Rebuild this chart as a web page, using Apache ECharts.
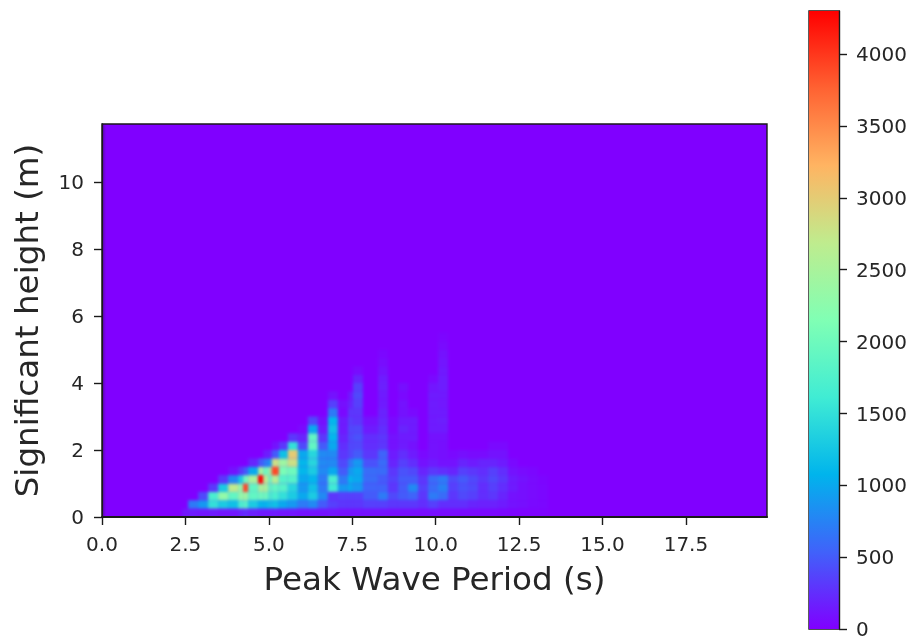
<!DOCTYPE html>
<html>
<head>
<meta charset="utf-8">
<style>
html,body{margin:0;padding:0;background:#fff;}
#wrap{position:relative;width:917px;height:641px;overflow:hidden;}
#main{width:917px;height:641px;filter:blur(0.7px);}
#soft{position:absolute;left:103px;top:125px;width:663px;height:391px;backdrop-filter:blur(1.6px);pointer-events:none;}
</style>
<script src="https://cdn.jsdelivr.net/npm/echarts@6/dist/echarts.min.js"></script>
</head>
<body>
<div id="wrap"><div id="main"></div><div id="soft"></div></div>
<script>
const xTicks = [0, 2.5, 5, 7.5, 10, 12.5, 15, 17.5];
const yTicks = [0, 2, 4, 6, 8, 10];
const barTicks = [0, 500, 1000, 1500, 2000, 2500, 3000, 3500, 4000];
const xMax = 19.93, yMax = 11.73, barMax = 4300, heightStep = 0.25;
const rainbowStops = ['#8000ff','#4062fa','#00b4ec','#40ecd4','#80ffb4','#bfec8e','#ffb462','#ff6232','#ff0000'];
// Left/right edges of the period bins (s)
const periodEdges = [2.4,2.58,2.88,3.18,3.48,3.78,4.08,4.23,4.38,4.68,4.83,4.98,5.09,5.30,5.57,5.87,6.17,6.47,6.77,7.07,7.37,7.52,7.82,8.27,8.57,8.87,9.17,9.47,9.77,10.07,10.37,10.67,10.97,11.27,11.57,11.87,12.17,12.47,12.77,13.07,13.37];
// Counts per period bin, listed from the lowest height bin upward
const counts = [
[120],
[150,700],
[130,900,400],
[150,1500,1700,300],
[120,1300,2300,1300,300],
[130,1200,1900,2700,800,100],
[200,1700,2300,2300,1300,300],
[250,1800,2400,3900,2000,500],
[180,1300,1900,1900,2500,1000,200],
[150,1100,2000,2500,4300,2500,500],
[150,1100,2000,2500,2700,2000,700,150],
[150,1200,1700,1900,2000,2400,900,200],
[150,1200,1700,1900,2600,3900,2800,500,100],
[120,1000,1500,1800,1800,2100,2400,1200,300],
[120,900,1300,1400,1800,2000,2800,3000,1500,300],
[100,700,1000,900,1000,1100,1100,1000,400,200,50],
[100,800,1300,1200,1100,1300,1400,1400,1900,1900,1000,400],
[100,500,800,700,700,800,800,800,500,300,150,80],
[120,350,300,1600,1700,1000,800,800,1000,1100,1200,1100,700,350,100],
[100,300,350,900,700,500,400,300,250,200,150,150,50,80],
[100,300,350,1000,1100,900,700,400,400,400,400,350,300,200,150],
[100,300,350,900,1000,1000,900,500,400,450,400,300,300,350,400,350,200,60],
[100,350,500,550,600,600,450,300,250,250,150,100],
[100,350,700,550,500,600,600,550,300,300,260,220,190,150,150,180,160,110,70,40],
[80,300,400,300,350,300,200,150,100,100,50,50],
[80,300,500,500,500,450,350,250,150,150,200,150,100,100,50,80],
[80,300,550,800,500,400,250,150,100,150,150,150,50],
[70,250,300,350,300,200,100,50],
[80,350,700,600,600,300,150,100,100,100,150,150,150,150,150,120,50],
[70,250,600,750,700,250,100,80,80,100,150,170,150,130,140,160,160,140,120,100,60,30],
[70,250,300,350,400,200,100,50],
[60,250,400,450,500,350,200,80],
[60,200,350,400,400,300,150,60],
[50,180,250,250,300,250,200,60],
[50,180,300,350,400,350,200,100,50],
[40,150,200,250,300,250,150,100,50],
[30,100,100,150,150,100,50],
[20,80,80,80,100,60],
[20,50,60,60,60,40],
[20,40,40,40,30]
];

const cells = [];
counts.forEach((col, i) => col.forEach((v, j) => {
  cells.push([periodEdges[i], periodEdges[i + 1], j * heightStep, (j + 1) * heightStep, v]);
}));

const tickFont = {fontFamily: 'DejaVu Sans', fontSize: 20, color: '#262626'};
const shiftedTick = {rich: {t: {...tickFont, padding: [4, 0, 0, 0]}}};
const nameFont = {fontFamily: 'DejaVu Sans', fontSize: 32.6, color: '#262626'};
const axisBlack = {lineStyle: {color: '#1a1a1a', width: 1.4}};
const axisBlackHeavy = {lineStyle: {color: '#1a1a1a', width: 2}};

const chart = echarts.init(document.getElementById('main'), null, {renderer: 'canvas'});
chart.setOption({
  animation: false,
  backgroundColor: '#fff',
  grid: [
    {left: 102, top: 124, width: 665, height: 393, show: true, backgroundColor: '#8000ff', borderColor: '#1a1a1a', borderWidth: 1.4},
    {left: 809, top: 11, width: 30, height: 619, show: true, backgroundColor: 'transparent', borderColor: '#1a1a1a', borderWidth: 1.4}
  ],
  xAxis: [
    {type: 'value', gridIndex: 0, z: 10, min: 0, max: xMax, name: 'Peak Wave Period (s)', nameLocation: 'middle', nameGap: 48, nameTextStyle: nameFont,
     splitLine: {show: false}, axisLine: {show: true, ...axisBlackHeavy},
     axisTick: {show: true, length: 8, customValues: xTicks, ...axisBlack},
     axisLabel: {customValues: xTicks, formatter: v => v.toFixed(1), margin: 19, ...tickFont}},
    {type: 'category', gridIndex: 1, data: ['scale'], axisLine: {show: false}, axisTick: {show: false}, axisLabel: {show: false}}
  ],
  yAxis: [
    {type: 'value', gridIndex: 0, z: 10, min: 0, max: yMax, name: 'Significant height (m)', nameLocation: 'middle', nameGap: 56, nameTextStyle: nameFont,
     splitLine: {show: false}, axisLine: {show: true, ...axisBlack},
     axisTick: {show: true, length: 8, customValues: yTicks, ...axisBlack},
     axisLabel: {customValues: yTicks, formatter: v => '{t|' + v + '}', margin: 18, ...shiftedTick}},
    {type: 'value', gridIndex: 1, z: 10, position: 'right', min: 0, max: barMax,
     splitLine: {show: false}, axisLine: {show: true, ...axisBlack},
     axisTick: {show: true, length: 8, customValues: barTicks, ...axisBlack},
     axisLabel: {customValues: barTicks, formatter: v => '{t|' + v + '}', margin: 17, ...shiftedTick}}
  ],
  visualMap: {show: false, type: 'continuous', seriesIndex: 0, dimension: 4, min: 0, max: barMax, inRange: {color: rainbowStops}},
  series: [
    {type: 'custom', xAxisIndex: 0, yAxisIndex: 0, data: cells, clip: true,
     encode: {x: [0, 1], y: [2, 3]},
     renderItem: (params, api) => {
       const p0 = api.coord([api.value(0), api.value(3)]);
       const p1 = api.coord([api.value(1), api.value(2)]);
       return {type: 'rect', shape: {x: p0[0], y: p0[1], width: p1[0] - p0[0], height: p1[1] - p0[1]},
               style: {fill: api.visual('color')}};
     }},
    {type: 'bar', xAxisIndex: 1, yAxisIndex: 1, barWidth: '100%', data: [barMax],
     itemStyle: {color: new echarts.graphic.LinearGradient(0, 1, 0, 0,
       rainbowStops.map((c, i) => ({offset: i / (rainbowStops.length - 1), color: c})))}}
  ]
});
</script>
</body>
</html>
